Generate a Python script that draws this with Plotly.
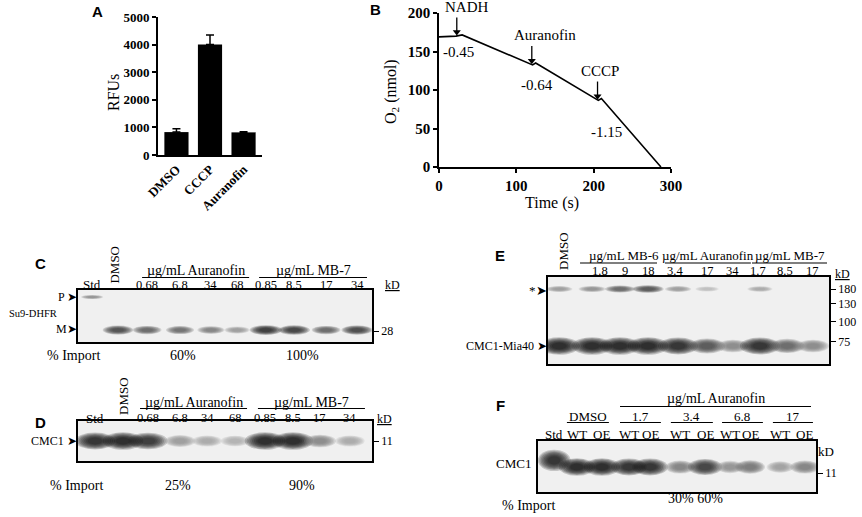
import plotly.graph_objects as go
import numpy as np

W, H = 862, 517
SERIF = "Liberation Serif, Times New Roman, serif"
SANS = "Liberation Sans, Arial, sans-serif"

# ---------------- data ----------------
# Panel A
a_cats = ["DMSO", "CCCP", "Auranofin"]
a_vals = [830, 4000, 820]
a_err = [120, 350, 20]

# Panel B
b_time = [0, 22, 30, 119, 121, 125, 204, 206, 210, 287]
b_o2 = [169, 170, 171.5, 133.5, 132.5, 135, 87.5, 86.5, 89, 0]
b_events = ["NADH", "Auranofin", "CCCP"]
b_event_t = [23, 120, 205]
b_rates = ["-0.45", "-0.64", "-1.15"]

# Panel C (Su9-DHFR)
c_lanes = ["Std", "DMSO", "0.68", "6.8", "34", "68", "0.85", "8.5", "17", "34"]
c_band_P = [0.35, 0, 0, 0, 0, 0, 0, 0, 0, 0]
c_band_M = [0, 0.75, 0.6, 0.55, 0.45, 0.3, 0.9, 0.85, 0.6, 0.8]
c_import = ["60%", "100%"]

# Panel D (CMC1)
d_lanes = ["Std", "DMSO", "0.68", "6.8", "34", "68", "0.85", "8.5", "17", "34"]
d_band = [0.95, 1.0, 0.9, 0.3, 0.2, 0.15, 1.0, 1.0, 0.4, 0.2]
d_import = ["25%", "90%"]

# Panel E (CMC1-Mia40)
e_lanes = ["DMSO", "1.8", "9", "18", "3.4", "17", "34", "1.7", "8.5", "17"]
e_band_star = [0.3, 0.35, 0.6, 0.7, 0.3, 0.08, 0.02, 0.2, 0.02, 0.02]
e_band_main = [1.0, 1.0, 1.0, 1.0, 0.95, 0.7, 0.4, 0.95, 0.6, 0.4]
e_mw = ["180", "130", "100", "75"]

# Panel F (CMC1, WT vs OE)
f_lanes = ["Std", "WT", "OE", "WT", "OE", "WT", "OE", "WT", "OE", "WT", "OE"]
f_groups = ["DMSO", "1.7", "3.4", "6.8", "17"]
f_band = [0.95, 1.0, 1.0, 0.95, 0.95, 0.45, 0.85, 0.35, 0.5, 0.25, 0.45]
f_import = ["30%", "60%"]

# ---------------- layout helpers ----------------
def px(x):
    return x / W

def py(y):
    return 1 - y / H

annotations = []
shapes = []

def T(text, x, y, size=12, xref="paper", yref="paper", xanchor="center",
      yanchor="middle", angle=0, family=SERIF, color="black"):
    annotations.append(dict(text=text, x=x, y=y, xref=xref, yref=yref,
                            xanchor=xanchor, yanchor=yanchor, showarrow=False,
                            textangle=angle, font=dict(family=family, size=size, color=color)))

def hline(x0, x1, y, xref, width=1.2):
    shapes.append(dict(type="line", xref=xref, yref="paper", x0=x0, x1=x1,
                       y0=py(y), y1=py(y), line=dict(color="black", width=width)))

fig = go.Figure()

# ---------------- Panel A ----------------
fig.add_trace(go.Bar(x=a_cats, y=a_vals, width=0.72, marker=dict(color="black", line=dict(width=0)),
                     error_y=dict(type="data", array=a_err, arrayminus=[0] * len(a_err), symmetric=False,
                                  color="black", thickness=1.5, width=4),
                     xaxis="x", yaxis="y", showlegend=False, hoverinfo="skip"))

# ---------------- Panel B ----------------
fig.add_trace(go.Scatter(x=b_time, y=b_o2, mode="lines", line=dict(color="black", width=1.6),
                         xaxis="x2", yaxis="y2", showlegend=False, hoverinfo="skip"))

ev_text_dx = [13, 17, 3]
rate_pos = [(25, 150), (127, 106), (217, 45)]
tips = []
for name, t, rate, dx, rp in zip(b_events, b_event_t, b_rates, ev_text_dx, rate_pos):
    v = float(np.interp(t, b_time, b_o2))
    tip = v + 3
    tail = tip + 21
    tips.append(tip + 2)
    shapes.append(dict(type="line", xref="x2", yref="y2", x0=t, x1=t, y0=tail, y1=tip + 3,
                       line=dict(color="black", width=1.3)))
    T(name, t + dx, tail + 1, size=15, xref="x2", yref="y2", yanchor="bottom")
    T(rate, rp[0], rp[1], size=15, xref="x2", yref="y2")
fig.add_trace(go.Scatter(x=b_event_t, y=tips, mode="markers",
                         marker=dict(symbol="triangle-down", size=7, color="black"),
                         xaxis="x2", yaxis="y2", showlegend=False, hoverinfo="skip"))

# ---------------- Blots ----------------
blots = {}

def blot(n, box, lane_pos, band_sets, mw_vals, mw_text):
    l, t, r, b = box
    bw, bh = r - l, b - t
    fig.add_trace(go.Scatter(x=[None], y=[None], xaxis=f"x{n}", yaxis=f"y{n}",
                             showlegend=False, hoverinfo="skip"))
    blots[n] = dict(
        x=dict(domain=[px(l), px(r)], range=[0, 1], anchor=f"y{n}", showline=True, mirror=True,
               linecolor="black", linewidth=1.6, showticklabels=False, ticks="", showgrid=False,
               zeroline=False, fixedrange=True, automargin=False),
        y=dict(domain=[py(b), py(t)], range=[0, 1], anchor=f"x{n}", side="right", showline=True,
               mirror=True, linecolor="black", linewidth=1.6, ticks="outside", ticklen=5,
               tickcolor="black", tickwidth=1, tickvals=mw_vals, ticktext=mw_text,
               tickfont=dict(family=SERIF, size=12, color="black"), showgrid=False,
               zeroline=False, fixedrange=True, automargin=False))
    shapes.append(dict(type="rect", xref=f"x{n} domain", yref=f"y{n} domain", x0=0, x1=1, y0=0, y1=1,
                       fillcolor="#f0f0f0", line=dict(width=0), layer="below"))
    layers = [(1.45 - 0.13 * k, 0.2) for k in range(8)]
    for intens, ypos, base_w, base_h in band_sets:
        for pos, v in zip(lane_pos, intens):
            if v <= 0.03:
                continue
            g = int(200 - 190 * v)
            w = base_w * (0.65 + 0.35 * v) / bw
            h = base_h * (0.55 + 0.45 * v) / bh
            for sc, op in layers:
                shapes.append(dict(type="circle", xref=f"x{n}", yref=f"y{n}",
                                   x0=pos - w * sc / 2, x1=pos + w * sc / 2,
                                   y0=ypos - h * sc / 2, y1=ypos + h * sc / 2,
                                   fillcolor=f"rgb({g},{g},{g})", opacity=op, line=dict(width=0)))

# lane positions as fraction of blot width (layout)
c_pos = [0.048, 0.136, 0.235, 0.347, 0.452, 0.541, 0.639, 0.735, 0.844, 0.949]
d_pos = [0.058, 0.153, 0.238, 0.347, 0.439, 0.534, 0.636, 0.731, 0.823, 0.925]
e_pos = [0.040, 0.157, 0.256, 0.356, 0.463, 0.566, 0.658, 0.754, 0.851, 0.943]
e_label_pos = [0.053, 0.185, 0.274, 0.356, 0.452, 0.566, 0.658, 0.747, 0.843, 0.940]
f_pos = [0.058, 0.140, 0.230, 0.327, 0.403, 0.511, 0.601, 0.691, 0.763, 0.871, 0.960]

C_BOX = (78, 290, 372, 342)
D_BOX = (78, 421, 372, 461)
E_BOX = (548, 277, 829, 364)
F_BOX = (538, 441, 816, 492)

blot(3, C_BOX, c_pos, [(c_band_P, 0.865, 20, 4), (c_band_M, 0.23, 23, 7)], [0.21], ["28"])
blot(4, D_BOX, d_pos, [(d_band, 0.5, 28, 12)], [0.5], ["11"])
blot(5, E_BOX, e_pos, [(e_band_star, 0.862, 24, 6), (e_band_main, 0.207, 28, 12)],
     [0.862, 0.69, 0.483, 0.253], e_mw)
blot(6, F_BOX, f_pos, [(f_band[:1], 0.62, 23, 15), ([0] + f_band[1:], 0.49, 25, 12)], [0.37], ["11"])

LANE = 13
CONC = 12.5
GRP = 14

# ---- Panel C texts ----
T("Std", c_pos[0], py(284), size=LANE, xref="x3")
T("DMSO", c_pos[1] - 0.015, py(265), size=LANE, xref="x3", angle=-90)
for i in range(2, 10):
    T(c_lanes[i], c_pos[i], py(284.5), size=CONC, xref="x3")
T("µg/mL Auranofin", (0.218 + 0.582) / 2, py(270.5), size=GRP, xref="x3")
T("µg/mL MB-7", (0.616 + 0.983) / 2, py(270.5), size=GRP, xref="x3")
hline(0.218, 0.582, 277.5, "x3")
hline(0.616, 0.983, 277.5, "x3")
T("<u>kD</u>", px(392), py(285), size=12)
T("P ➤", px(79), py(297), size=12, xanchor="right")
T("M➤", px(79), py(329), size=12, xanchor="right")
T("Su9-DHFR", px(7), py(313), size=10.5, xanchor="left")
T("% Import", px(73), py(355), size=14)
T(c_import[0], px(183), py(355), size=14)
T(c_import[1], px(302), py(355), size=14)

# ---- Panel D texts ----
T("Std", d_pos[0], py(418), size=LANE, xref="x4")
T("DMSO", d_pos[1], py(396), size=LANE, xref="x4", angle=-90)
for i in range(2, 10):
    T(d_lanes[i], d_pos[i], py(417.5), size=CONC, xref="x4")
T("µg/mL Auranofin", (0.211 + 0.575) / 2, py(402), size=GRP, xref="x4")
T("µg/mL MB-7", (0.612 + 0.976) / 2, py(402), size=GRP, xref="x4")
hline(0.211, 0.575, 408.5, "x4")
hline(0.612, 0.976, 408.5, "x4")
T("<u>kD</u>", px(384), py(419), size=12)
T("CMC1 ➤", px(79), py(441), size=12, xanchor="right")
T("% Import", px(76), py(485), size=14)
T(d_import[0], px(178), py(485), size=14)
T(d_import[1], px(302), py(485), size=14)

# ---- Panel E texts ----
T("DMSO", e_label_pos[0], py(251), size=LANE, xref="x5", angle=-90)
for i in range(1, 10):
    T(e_lanes[i], e_label_pos[i], py(271), size=CONC, xref="x5")
T("µg/mL MB-6", px(624), py(255.5), size=13)
T("µg/mL Auranofin", px(708), py(255.5), size=13)
T("µg/mL MB-7", px(790), py(255.5), size=13)
hline(0.114, 0.388, 263, "x5")
hline(0.416, 0.722, 263, "x5")
hline(0.726, 0.993, 263, "x5")
T("<u>kD</u>", px(842), py(274), size=12)
T("*➤", px(549), py(290), size=13, xanchor="right")
T("CMC1-Mia40 ➤", px(549), py(346), size=12, xanchor="right")

# ---- Panel F texts ----
for i in range(11):
    T(f_lanes[i], f_pos[i], py(434), size=LANE, xref="x6")
T("µg/mL Auranofin", (0.295 + 0.982) / 2, py(398), size=GRP, xref="x6")
hline(0.295, 0.982, 406.5, "x6")
f_sub = [(0.104, 0.255), (0.295, 0.442), (0.478, 0.629), (0.662, 0.809), (0.845, 0.989)]
for name, (a0, a1) in zip(f_groups, f_sub):
    T(name, (a0 + a1) / 2, py(416), size=LANE, xref="x6")
    hline(a0, a1, 422.5, "x6")
T("kD", px(826), py(451), size=13)
T("CMC1", px(513), py(463), size=13)
T("% Import", px(528), py(505), size=14)
T(f_import[0] + " " + f_import[1], px(695), py(498), size=14)

# ---- panel letters and axis titles ----
for letter, x, y in [("A", 97, 11), ("B", 375, 10), ("C", 40, 263), ("D", 40, 422), ("E", 500, 255), ("F", 500, 405)]:
    T("<b>%s</b>" % letter, px(x), py(y), size=15, family=SANS)
T("RFUs", px(113), py(93), size=16, angle=-90)
T("O<sub>2</sub> (nmol)", px(392), py(92), size=16, angle=-90)
T("Time (s)", px(552), py(203), size=16)

axis_common = dict(showline=True, linecolor="black", linewidth=1.6, ticks="outside", ticklen=4,
                   tickwidth=1.5, tickcolor="black", showgrid=False, zeroline=False, fixedrange=True,
                   automargin=False)
bold_a = dict(family=SERIF, size=13, color="black", weight="bold")
bold_b = dict(family=SERIF, size=15, color="black", weight="bold")

layout = dict(
    width=W, height=H, margin=dict(l=0, r=0, t=0, b=0, autoexpand=False),
    paper_bgcolor="white", plot_bgcolor="white", showlegend=False,
    xaxis=dict(domain=[px(158), px(262)], range=[-0.55, 2.55], anchor="y", tickangle=-45,
               tickfont=bold_a, **{**axis_common, "ticks": ""}),
    yaxis=dict(domain=[py(155), py(17)], range=[0, 5000], dtick=1000, anchor="x",
               tickfont=bold_a, **axis_common),
    xaxis2=dict(domain=[px(439), px(671)], range=[0, 300], dtick=100, anchor="y2",
                tickfont=bold_b, **axis_common),
    yaxis2=dict(domain=[py(167), py(13)], range=[0, 200], dtick=50, anchor="x2",
                tickfont=bold_b, **axis_common),
    annotations=annotations, shapes=shapes,
)
for n, d in blots.items():
    layout[f"xaxis{n}"] = d["x"]
    layout[f"yaxis{n}"] = d["y"]

fig.update_layout(**layout)
fig.write_html("out.html", config={"displayModeBar": False},
               post_script="document.body.style.margin='0px';document.body.style.overflow='hidden';")
